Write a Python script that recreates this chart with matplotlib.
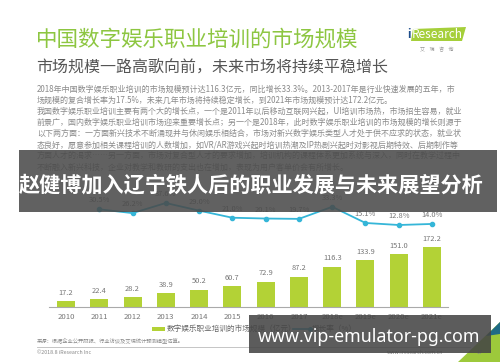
import matplotlib
matplotlib.use("Agg")
import matplotlib.pyplot as plt
from matplotlib.patches import Rectangle, Polygon
from matplotlib.lines import Line2D

plt.rcParams["font.family"] = ["Noto Sans CJK SC", "DejaVu Sans"]

# data
years = ["2010", "2011", "2012", "2013", "2014", "2015", "2016", "2017",
         "2018e", "2019e", "2020e", "2021e"]
market_size = [17.2, 22.4, 28.2, 38.9, 50.2, 60.7, 72.9, 87.2, 116.3, 133.9, 151.0, 172.2]
growth_years = years[1:]
growth_rate = [30.5, 26.2, 37.6, 29.0, 21.0, 20.1, 19.7, 33.3, 15.1, 12.8, 14.0]

title = "中国数字娱乐职业培训的市场规模"
subtitle = "市场规模一路高歌向前，未来市场将持续平稳增长"
paragraph = [
    "2018年中国数字娱乐职业培训的市场规模预计达116.3亿元，同比增长33.3%。2013-2017年是行业快速发展的五年，市",
    "场规模的复合增长率为17.5%，未来几年市场将持续稳定增长，到2021年市场规模预计达172.2亿元。",
    "我国数字娱乐职业培训主要有两个大的增长点，一个是2011年以后移动互联网兴起，UI培训市场热，市场招生容易，就业",
    "前景广，国内数字娱乐职业培训市场迎来重要增长点；另一个是2018年，此时数字娱乐职业培训的市场规模的增长则源于",
    "以下两方面：一方面新兴技术不断涌现并与休闲娱乐相结合，市场对新兴数字娱乐类型人才处于供不应求的状态，就业状",
    "态良好，愿意参加相关课程培训的人数增加，如VR/AR游戏兴起时培训热潮及IP热剧兴起时对影视后期特效、后期制作等",
    "方面人才的渴求……另一方面，市场对复合型人才的要求增加，培训机构的课程体系更加系统与深入，同时在教学过程中",
    "不断融入新兴科技，企业对教学和教研的支出也在增加，表现为用户客单价会有所增长。",
]
overlay_title = "赵健博加入辽宁铁人后的职业发展与未来展望分析"
legend_labels = ["数字娱乐职业培训的市场规模（亿元）", "增长率（%）"]
source = "来源：根据企业公开财报、行业访谈及艾瑞统计预测模型估算。"
watermark = "www.vip-emulator-pg.com"

W, H = 500, 362
fig = plt.figure(figsize=(5, 3.62), dpi=100)


def fx(px):
    return px / W


def fy(py):
    return 1 - py / H


green = "#B3D236"
cyan = "#35B6D8"
gray = "#777777"

# header
fig.text(fx(36), fy(40), title, fontsize=15.5, color="#8DC641", va="center", ha="left")
fig.text(fx(36), fy(68), subtitle, fontsize=11.5, color="#555555", va="center", ha="left")

# iResearch logo
fig.add_artist(Polygon([(fx(411), fy(41)), (fx(462), fy(41)), (fx(466), fy(27)), (fx(413), fy(29))],
                       closed=True, transform=fig.transFigure, fc="#A5CF3A", ec="none"))
fig.text(fx(407), fy(35), "i", fontsize=8.5, color="#1F4E8C", va="center", ha="left", fontweight="bold")
fig.text(fx(412), fy(35), "Research", fontsize=8.5, color="white", va="center", ha="left")
fig.text(fx(437), fy(50), "艾    瑞    咨    询", fontsize=3.6, color="#999999", va="center", ha="center")

for i, line in enumerate(paragraph):
    fig.text(fx(37), fy(89.5 + 11.05 * i), line, fontsize=5.75, color="#8a8a8a",
             va="center", ha="left")

# chart
ax = fig.add_axes([fx(49), fy(307), 399 / W, 107 / H])
x = list(range(len(years)))
bars = ax.bar(x, market_size, width=0.54, color=green, zorder=2)
ax.set_xlim(-0.51, 11.48)
ax.set_ylim(0, 107 / 0.348)
ax.bar_label(bars, labels=[f"{v:.1f}" for v in market_size], padding=3, fontsize=5.4, color=gray)
ax.set_xticks(x)
ax.set_xticklabels(years, fontsize=5.6, color=gray)
ax.tick_params(axis="x", length=0, pad=4)
ax.set_yticks([])
for s in ["top", "left", "right"]:
    ax.spines[s].set_visible(False)
ax.spines["bottom"].set_color("#aaaaaa")
ax.spines["bottom"].set_linewidth(0.8)
ax.patch.set_alpha(0)

ax2 = ax.twinx()
gx = [years.index(y) for y in growth_years]
ax2.plot(gx, growth_rate, color=cyan, lw=1.3, marker="o", ms=3, zorder=3)
ax2.set_ylim(-79.6, 40.98)
ax2.set_yticks([])
for s in ax2.spines.values():
    s.set_visible(False)
for i, v in zip(gx, growth_rate):
    ax2.annotate(f"{v:.1f}%", (i, v), xytext=(0, 3.5), textcoords="offset points",
                 ha="center", va="bottom", fontsize=5.4, color=gray)

# legend
fig.add_artist(Rectangle((fx(152), fy(331)), 13 / W, 4 / H, transform=fig.transFigure,
                         fc=green, ec="none"))
fig.text(fx(167), fy(329), legend_labels[0], fontsize=5.5, color="#666666", va="center", ha="left")
fig.add_artist(Line2D([fx(293), fx(310)], [fy(329), fy(329)], transform=fig.transFigure,
                      color=cyan, lw=1.2, marker="o", ms=2.5, markevery=[1]))
fig.text(fx(312), fy(329), legend_labels[1], fontsize=5.5, color="#666666", va="center", ha="left")

# footer
fig.text(fx(37), fy(341), source, fontsize=3.8, color="#888888", va="center", ha="left")
fig.add_artist(Line2D([fx(37), fx(470)], [fy(347), fy(347)], transform=fig.transFigure,
                      color="#bbbbbb", lw=0.6))
fig.text(fx(37), fy(353), "©2018.8 iResearch Inc", fontsize=3.8, color="#888888", va="center", ha="left")
fig.text(fx(443), fy(353), "www.iresearch.com.cn", fontsize=3.8, color="#888888", va="center", ha="right")
fig.add_artist(Polygon([(fx(458), fy(362)), (fx(500), fy(362)), (fx(500), fy(322))],
                       closed=True, transform=fig.transFigure, fc="#9DC93B", ec="none", zorder=2))
fig.add_artist(Polygon([(fx(486), fy(336)), (fx(500), fy(322)), (fx(500), fy(334))],
                       closed=True, transform=fig.transFigure, fc="#1F6A86", ec="none", zorder=2))
fig.text(fx(480), fy(353), "17", fontsize=4, color="#888888", va="center", ha="center")

# overlays
fig.add_artist(Rectangle((fx(19), fy(212)), (497 - 19) / W, 62 / H, transform=fig.transFigure,
                         fc="#4a4a4a", ec="none", alpha=0.87, zorder=5))
fig.text(fx(19), fy(185), overlay_title, fontsize=15.2, fontweight="bold", color="white",
         va="center", ha="left", zorder=6)
fig.add_artist(Rectangle((fx(249), fy(353)), (491 - 249) / W, 38 / H, transform=fig.transFigure,
                         fc="#454545", ec="none", alpha=0.88, zorder=5))
fig.text(fx(369), fy(337), watermark, fontsize=12.8, fontweight="bold", color="white",
         va="center", ha="center", family=["Noto Sans", "DejaVu Sans"], zorder=6)

fig.savefig("out.png", dpi=100)
